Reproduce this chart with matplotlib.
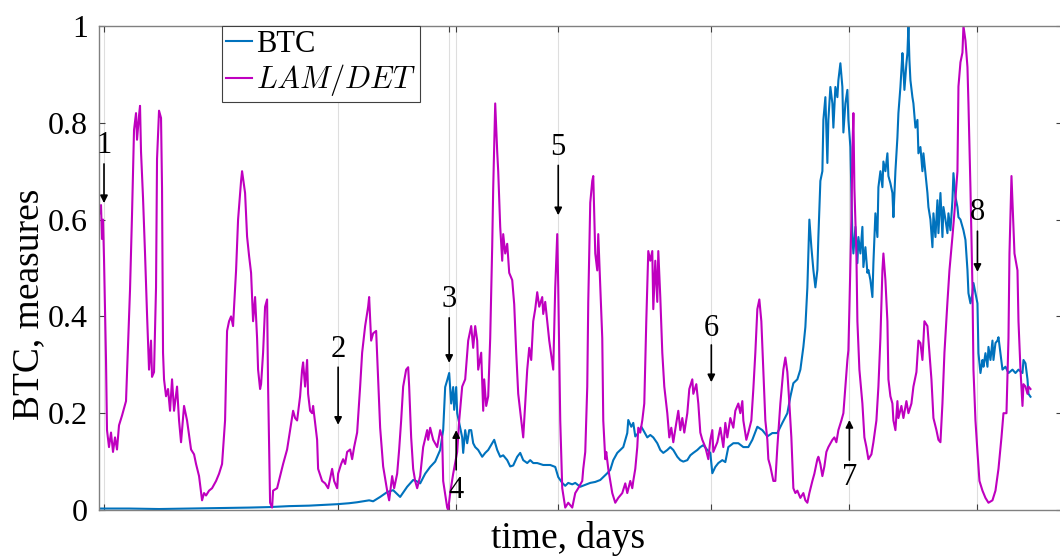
import matplotlib
matplotlib.use("Agg")
import matplotlib.pyplot as plt

plt.rcParams["font.family"] = ["Liberation Serif", "DejaVu Serif"]
plt.rcParams["mathtext.fontset"] = "cm"

# LAM/DET measure (normalised), sampled along the time axis (days)
lam_days = [
    0, 2, 3, 4, 5, 7, 8, 10, 12, 14, 16, 18, 20, 23, 27, 29, 31, 33, 35, 37,
    38, 40, 41, 42, 44, 46, 48, 50, 52, 53, 55, 57, 58, 60, 62, 63, 64, 65, 67, 69,
    71, 73, 75, 78, 80, 82, 85, 88, 92, 95, 97, 100, 103, 105, 107, 110, 113, 117, 120, 123,
    126, 128, 130, 132, 134, 135, 137, 139, 142, 143, 145, 146, 148, 150, 152, 154, 156, 158, 159, 161,
    162, 164, 166, 168, 169, 171, 173, 174, 178, 181, 184, 188, 191, 194, 196, 198, 201, 203, 204, 206,
    208, 209, 211, 213, 214, 216, 218, 219, 223, 226, 229, 231, 233, 235, 238, 239, 242, 244, 246, 248,
    251, 253, 255, 258, 261, 263, 266, 269, 270, 272, 274, 277, 279, 281, 284, 288, 290, 293, 295, 298,
    300, 302, 304, 307, 309, 310, 312, 314, 316, 318, 321, 324, 328, 329, 331, 334, 338, 341, 343, 344,
    348, 349, 351, 354, 358, 360, 363, 366, 369, 372, 374, 376, 378, 379, 382, 384, 385, 387, 389, 391,
    393, 394, 396, 398, 399, 401, 403, 404, 406, 408, 410, 413, 415, 417, 419, 422, 424, 426, 428, 430,
    432, 434, 436, 438, 440, 443, 444, 446, 448, 450, 453, 454, 456, 458, 459, 461, 463, 466, 469, 473,
    476, 479, 483, 484, 486, 488, 489, 491, 493, 494, 496, 498, 499, 501, 503, 504, 506, 507, 509, 513,
    516, 519, 523, 526, 528, 531, 533, 534, 536, 538, 539, 541, 543, 545, 547, 549, 551, 553, 554, 556,
    558, 559, 561, 563, 565, 568, 570, 572, 574, 577, 579, 581, 583, 585, 588, 590, 593, 594, 597, 599,
    601, 603, 606, 609, 611, 613, 614, 618, 621, 624, 626, 628, 631, 634, 636, 639, 641, 643, 644, 647,
    649, 652, 654, 656, 658, 660, 662, 664, 666, 668, 669, 671, 674, 676, 678, 681, 684, 686, 688, 690,
    692, 694, 696, 698, 701, 704, 706, 708, 710, 713, 715, 718, 719, 721, 723, 725, 727, 729, 733, 735,
    737, 739, 742, 744, 746, 748, 749, 750, 752, 753, 754, 755, 757, 758, 760, 763, 765, 767, 769, 772,
    774, 777, 779, 781, 783, 784, 786, 788, 789, 791, 793, 794, 796, 798, 799, 802, 804, 807, 809, 812,
    814, 817, 819, 821, 823, 825, 828, 830, 832, 834, 837, 839, 841, 843, 845, 848, 850, 853, 855, 858,
    859, 861, 863, 864, 866, 868, 869, 871, 873, 874, 876, 878, 880, 883, 886, 889, 893, 896, 899, 902,
    904, 907, 909, 910, 912, 913, 915, 918, 919, 921, 923, 924, 926, 928, 929, 931,
]
lam_vals = [
    0.61, 0.63, 0.56, 0.60, 0.52, 0.31, 0.165, 0.13, 0.16, 0.12, 0.15, 0.125, 0.175, 0.195, 0.225, 0.34, 0.455, 0.61, 0.785, 0.82,
    0.765, 0.815, 0.835, 0.74, 0.645, 0.53, 0.405, 0.29, 0.35, 0.275, 0.285, 0.46, 0.725, 0.825, 0.81, 0.665, 0.325, 0.27, 0.235, 0.25,
    0.205, 0.27, 0.205, 0.255, 0.185, 0.14, 0.215, 0.185, 0.125, 0.115, 0.095, 0.07, 0.02, 0.035, 0.03, 0.04, 0.045, 0.06, 0.075, 0.095,
    0.185, 0.37, 0.39, 0.40, 0.38, 0.42, 0.495, 0.60, 0.68, 0.70, 0.67, 0.655, 0.565, 0.525, 0.49, 0.39, 0.44, 0.355, 0.29, 0.25,
    0.26, 0.325, 0.42, 0.435, 0.255, 0.015, 0.005, 0.04, 0.045, 0.07, 0.095, 0.125, 0.165, 0.205, 0.19, 0.185, 0.235, 0.29, 0.305, 0.255,
    0.31, 0.24, 0.205, 0.20, 0.215, 0.18, 0.145, 0.085, 0.06, 0.055, 0.045, 0.065, 0.085, 0.06, 0.045, 0.075, 0.095, 0.105, 0.095, 0.12,
    0.125, 0.105, 0.13, 0.16, 0.255, 0.325, 0.38, 0.42, 0.44, 0.35, 0.365, 0.37, 0.27, 0.17, 0.09, 0.04, 0.02, 0.07, 0.045, 0.075,
    0.125, 0.185, 0.255, 0.29, 0.295, 0.255, 0.15, 0.085, 0.06, 0.045, 0.07, 0.13, 0.165, 0.145, 0.17, 0.145, 0.13, 0.165, 0.15, 0.06,
    0.005, 0.0, 0.035, 0.075, 0.12, 0.185, 0.255, 0.27, 0.35, 0.38, 0.335, 0.38, 0.35, 0.29, 0.325, 0.205, 0.27, 0.215, 0.235, 0.355,
    0.545, 0.665, 0.84, 0.74, 0.70, 0.585, 0.515, 0.57, 0.53, 0.55, 0.49, 0.475, 0.425, 0.325, 0.24, 0.185, 0.15, 0.22, 0.29, 0.335,
    0.31, 0.39, 0.415, 0.45, 0.42, 0.44, 0.405, 0.43, 0.39, 0.35, 0.305, 0.29, 0.46, 0.57, 0.46, 0.185, 0.045, 0.005, 0.015, 0.005,
    0.035, 0.045, 0.06, 0.085, 0.12, 0.255, 0.43, 0.635, 0.68, 0.69, 0.53, 0.495, 0.57, 0.46, 0.355, 0.185, 0.105, 0.12, 0.085, 0.035,
    0.015, 0.025, 0.035, 0.055, 0.035, 0.06, 0.045, 0.06, 0.085, 0.13, 0.17, 0.16, 0.185, 0.22, 0.39, 0.535, 0.515, 0.535, 0.415, 0.515,
    0.43, 0.535, 0.44, 0.325, 0.255, 0.20, 0.15, 0.17, 0.14, 0.18, 0.205, 0.165, 0.19, 0.16, 0.20, 0.25, 0.27, 0.24, 0.26, 0.22,
    0.16, 0.145, 0.13, 0.105, 0.145, 0.165, 0.12, 0.14, 0.17, 0.13, 0.18, 0.15, 0.19, 0.17, 0.205, 0.22, 0.20, 0.225, 0.185, 0.145,
    0.16, 0.185, 0.25, 0.325, 0.415, 0.435, 0.39, 0.29, 0.185, 0.145, 0.105, 0.09, 0.06, 0.06, 0.13, 0.22, 0.29, 0.315, 0.285, 0.22,
    0.15, 0.045, 0.035, 0.04, 0.025, 0.035, 0.02, 0.015, 0.035, 0.06, 0.075, 0.105, 0.11, 0.095, 0.07, 0.09, 0.12, 0.13, 0.145, 0.15,
    0.14, 0.165, 0.185, 0.20, 0.255, 0.31, 0.33, 0.415, 0.60, 0.74, 0.82, 0.665, 0.53, 0.39, 0.29, 0.22, 0.15, 0.13, 0.105, 0.115,
    0.14, 0.185, 0.255, 0.355, 0.495, 0.53, 0.475, 0.39, 0.27, 0.235, 0.22, 0.185, 0.165, 0.225, 0.19, 0.215, 0.19, 0.225, 0.20, 0.22,
    0.255, 0.285, 0.35, 0.345, 0.31, 0.39, 0.38, 0.325, 0.27, 0.19, 0.165, 0.145, 0.14, 0.22, 0.325, 0.43, 0.495, 0.565, 0.615, 0.70,
    0.875, 0.925, 0.945, 1.0, 0.97, 0.915, 0.84, 0.665, 0.46, 0.29, 0.185, 0.12, 0.06, 0.04, 0.025, 0.015, 0.02, 0.04, 0.085, 0.15,
    0.20, 0.20, 0.355, 0.53, 0.69, 0.635, 0.53, 0.495, 0.39, 0.29, 0.215, 0.26, 0.255, 0.24, 0.255, 0.25,
]

# BTC price (normalised), sampled along the time axis (days)
btc_days = [
    0, 30, 60, 90, 120, 150, 170, 190, 210, 238, 250, 258, 270, 274, 281, 288, 294, 301, 308, 314,
    317, 321, 326, 331, 336, 341, 344, 346, 348, 350, 352, 354, 355, 357, 358, 360, 363, 364, 366, 368,
    370, 372, 374, 376, 379, 383, 386, 389, 393, 395, 398, 401, 404, 408, 411, 414, 418, 421, 424, 428,
    431, 434, 438, 444, 451, 456, 459, 463, 466, 469, 473, 476, 481, 486, 491, 496, 501, 504, 508, 511,
    514, 518, 521, 524, 528, 529, 532, 534, 536, 539, 542, 544, 548, 551, 554, 558, 561, 564, 568, 571,
    574, 578, 581, 584, 588, 591, 594, 598, 601, 604, 608, 611, 613, 616, 619, 623, 626, 629, 634, 639,
    644, 649, 653, 658, 663, 668, 673, 678, 683, 688, 691, 694, 698, 701, 704, 706, 708, 710, 712, 714,
    716, 718, 719, 721, 723, 724, 726, 728, 729, 731, 733, 734, 736, 738, 739, 741, 743, 744, 746, 748,
    749, 751, 753, 754, 756, 758, 759, 761, 763, 764, 766, 768, 769, 771, 773, 774, 776, 778, 779, 781,
    783, 784, 786, 788, 789, 791, 793, 794, 796, 798, 799, 801, 803, 804, 805, 807, 808, 809, 810, 811,
    813, 814, 816, 818, 819, 821, 823, 824, 826, 828, 829, 831, 833, 834, 836, 838, 839, 841, 843, 844,
    846, 848, 849, 851, 853, 854, 856, 858, 859, 861, 863, 864, 866, 868, 869, 871, 873, 874, 876, 878,
    879, 881, 883, 884, 886, 888, 889, 891, 893, 894, 896, 898, 899, 901, 903, 906, 909, 913, 916, 919,
    923, 924, 926, 928, 929, 931,
]
btc_vals = [
    0.003, 0.003, 0.002, 0.003, 0.004, 0.005, 0.006, 0.008, 0.009, 0.012, 0.014, 0.016, 0.02, 0.018, 0.027, 0.037, 0.041, 0.027, 0.048, 0.062,
    0.06, 0.055, 0.075, 0.089, 0.10, 0.124, 0.165, 0.254, 0.268, 0.283, 0.22, 0.254, 0.207, 0.254, 0.20, 0.18, 0.15, 0.118, 0.165, 0.138,
    0.165, 0.165, 0.138, 0.13, 0.124, 0.11, 0.118, 0.124, 0.138, 0.145, 0.124, 0.11, 0.113, 0.103, 0.09, 0.092, 0.11, 0.118, 0.103, 0.097,
    0.103, 0.097, 0.097, 0.093, 0.093, 0.089, 0.068, 0.056, 0.05, 0.056, 0.053, 0.056, 0.048, 0.052, 0.056, 0.058, 0.062, 0.068, 0.076, 0.083,
    0.103, 0.118, 0.124, 0.13, 0.159, 0.186, 0.172, 0.18, 0.152, 0.159, 0.172, 0.165, 0.15, 0.155, 0.15, 0.138, 0.124, 0.118, 0.124, 0.13,
    0.124, 0.11, 0.103, 0.10, 0.103, 0.113, 0.118, 0.124, 0.13, 0.134, 0.124, 0.118, 0.076, 0.089, 0.097, 0.103, 0.099, 0.13, 0.138, 0.138,
    0.13, 0.13, 0.145, 0.172, 0.165, 0.152, 0.159, 0.159, 0.18, 0.20, 0.234, 0.262, 0.27, 0.29, 0.337, 0.378, 0.46, 0.60, 0.543, 0.496,
    0.46, 0.496, 0.564, 0.68, 0.70, 0.806, 0.853, 0.717, 0.806, 0.874, 0.84, 0.79, 0.874, 0.853, 0.888, 0.923, 0.874, 0.78, 0.84, 0.868,
    0.806, 0.75, 0.564, 0.53, 0.585, 0.51, 0.564, 0.53, 0.585, 0.502, 0.543, 0.49, 0.496, 0.475, 0.44, 0.51, 0.613, 0.564, 0.667, 0.70,
    0.667, 0.72, 0.70, 0.737, 0.69, 0.675, 0.655, 0.605, 0.70, 0.77, 0.82, 0.874, 0.944, 0.91, 0.868, 0.923, 0.944, 1.0, 0.93, 0.888,
    0.853, 0.84, 0.79, 0.806, 0.737, 0.75, 0.70, 0.737, 0.695, 0.655, 0.626, 0.60, 0.543, 0.613, 0.564, 0.64, 0.572, 0.655, 0.564, 0.626,
    0.60, 0.572, 0.613, 0.578, 0.64, 0.696, 0.647, 0.626, 0.605, 0.60, 0.585, 0.578, 0.558, 0.496, 0.448, 0.427, 0.448, 0.469, 0.448, 0.427,
    0.324, 0.283, 0.31, 0.296, 0.324, 0.296, 0.337, 0.31, 0.35, 0.31, 0.345, 0.35, 0.357, 0.324, 0.29, 0.296, 0.283, 0.29, 0.283, 0.29,
    0.283, 0.31, 0.303, 0.27, 0.24, 0.234,
]

# Marked events on the time axis
event_days = [5, 239, 350, 357, 459, 612, 750, 878]
event_labels = ["1", "2", "3", "4", "5", "6", "7", "8"]

W, H = 1060, 557
fig = plt.figure(figsize=(W / 100, H / 100), dpi=100)
ax = fig.add_axes([99 / W, 47 / H, 962.5 / W, 484 / H])

ax.plot(btc_days, btc_vals, color="#0072BD", lw=1.5, label="BTC")
ax.plot(lam_days, lam_vals, color="#BF00BF", lw=1.5, label=r"$LAM/DET$")

ax.set_xlim(0, 962)
ax.set_ylim(0, 1)
ax.set_yticks([0, 0.2, 0.4, 0.6, 0.8, 1])
ax.set_yticklabels(["0", "0.2", "0.4", "0.6", "0.8", "1"])
ax.set_xticks(event_days)
ax.set_xticklabels([])
ax.tick_params(axis="both", direction="in", length=4, width=0.8, color="#404040",
               top=True, right=True, labelsize=23, pad=8)
ax.grid(axis="x", color="#dedede", lw=0.8)
ax.set_axisbelow(True)
for s in ax.spines.values():
    s.set_color("#808080")
    s.set_linewidth(1.0)

ax.set_xlabel("time, days", fontsize=27)
ax.xaxis.set_label_coords(0.4875, -0.022)
ax.set_ylabel("BTC, measures", fontsize=27)
ax.yaxis.set_label_coords(-0.055, 0.424)

# Event markers: number plus arrow (down from above or up from below)
text_y = [0.754, 0.331, 0.434, 0.041, 0.748, 0.376, 0.068, 0.614]
tail_y = [0.715, 0.295, 0.397, 0.083, 0.712, 0.341, 0.103, 0.576]
head_y = [0.634, 0.176, 0.304, 0.165, 0.609, 0.264, 0.186, 0.492]
for d, lab, ty, t0, t1 in zip(event_days, event_labels, text_y, tail_y, head_y):
    ax.text(d, ty, lab, ha="center", va="center", fontsize=22)
    ax.annotate("", xy=(d, t1), xytext=(d, t0),
                arrowprops=dict(arrowstyle="-|>", color="black", lw=1.2,
                                mutation_scale=11, shrinkA=0, shrinkB=0))

leg = ax.legend(loc="upper left", bbox_to_anchor=(0.128, 1.0), fontsize=22,
                frameon=True, fancybox=False, framealpha=1, edgecolor="#404040",
                handlelength=0.85, handletextpad=0.15, labelspacing=0.12,
                borderpad=0.12, borderaxespad=0)
leg.get_frame().set_linewidth(0.8)

fig.savefig("out.png", dpi=100)
